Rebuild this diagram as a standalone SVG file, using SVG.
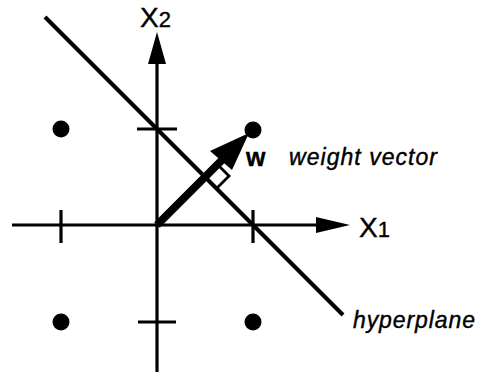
<svg xmlns="http://www.w3.org/2000/svg" width="477" height="373" viewBox="0 0 477 373">
<style>
.ax{stroke:#000;stroke-width:3.2;fill:none}
.tk{stroke:#000;stroke-width:3.2;fill:none}
.dot{fill:#000}
.lbl{font-family:"Liberation Sans",Arial,sans-serif;fill:#000;stroke:#000;stroke-width:0.4}
.it{font-family:"Liberation Sans",Arial,sans-serif;font-style:italic;font-size:23px;fill:#000;stroke:#000;stroke-width:0.4}
</style>
<rect width="477" height="373" fill="#fff"/>
<g id="connectors">
<line class="ax" x1="12" y1="225" x2="320" y2="225"/>
<polygon points="350,225 316,217 316,233" fill="#000"/>
<line class="ax" x1="157" y1="372" x2="157" y2="60"/>
<polygon points="157,32 148,64 166,64" fill="#000"/>
<line class="tk" x1="137" y1="129" x2="177" y2="129"/>
<line class="tk" x1="138" y1="322" x2="176" y2="322"/>
<line class="tk" x1="61" y1="210" x2="61" y2="243"/>
<line class="tk" x1="253" y1="210" x2="253" y2="243"/>
<line id="hyperplane-line" x1="45" y1="17" x2="343" y2="315" stroke="#000" stroke-width="4"/>
<line x1="157" y1="225" x2="223" y2="159" stroke="#000" stroke-width="8"/>
<polygon points="249,133 210,151 232,170" fill="#000"/>
<polyline points="217,164 229,176 217,188" fill="none" stroke="#000" stroke-width="2.8"/>
</g>
<g id="points">
<circle class="dot" cx="61" cy="129" r="8.5"/>
<circle class="dot" cx="253" cy="130" r="8.5"/>
<circle class="dot" cx="61" cy="322" r="8.5"/>
<circle class="dot" cx="253" cy="322" r="8.5"/>
</g>
<g id="labels">
<text class="lbl" x="359" y="237" font-size="28">X<tspan font-size="22">1</tspan></text>
<text class="lbl" x="140" y="27" font-size="28">X<tspan font-size="22">2</tspan></text>
<text class="lbl" x="246" y="166" font-size="25" font-weight="bold">w</text>
<text class="it" x="289" y="165" textLength="148" lengthAdjust="spacing">weight vector</text>
<text class="it" x="353" y="328" textLength="122" lengthAdjust="spacing">hyperplane</text>
</g>
</svg>
